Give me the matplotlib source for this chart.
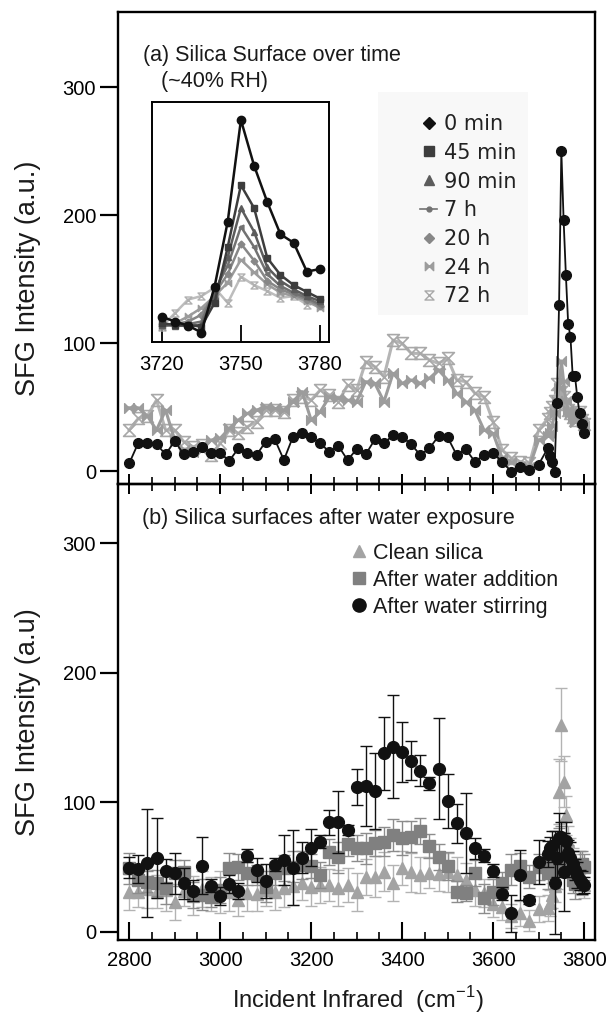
import matplotlib
matplotlib.use("Agg")
import matplotlib.pyplot as plt
from matplotlib.path import Path
from matplotlib.lines import Line2D
from matplotlib.patches import Rectangle
from matplotlib.ticker import MultipleLocator

plt.rcParams['font.family'] = ['Liberation Sans', 'DejaVu Sans']
plt.rcParams['text.color'] = '#1a1a1a'

# ---- data: panel (a) ----
wn_coarse = list(range(2800, 3701, 20))
wn_fine = list(range(3720, 3801, 5))
wn = wn_coarse + wn_fine

t0min = [6, 22, 22, 21, 13, 23.4, 13, 15, 19, 13.8, 14, 8, 17.7, 14, 12.5, 23, 24.7, 8.6,
         26.8, 29.4, 26.3, 21.6, 15, 19.5, 8.6, 17, 13, 24.7, 21.6, 28, 26.8, 20.8, 12.5,
         17.7, 27.3, 26.3, 12.5, 17, 7.3, 12.5, 14, 7.3, -0.5, 3, 0.8, 5,
         17.7, 12, 7.3, -1, 53, 130, 250, 196, 153, 115, 105, 74, 74, 58, 45, 37, 30]
t24h = [49.4, 49.4, 43, 32, 47.6, 24.2, 16.4, 15.1, 16.4, 24.2, 25.5, 33.3, 39.8, 45, 47.6,
        50.2, 49, 47.6, 54.2, 62, 39.8, 46.3, 58, 56.8, 55.4, 54.2, 69.8, 68.5, 54.2, 76.3,
        68.5, 71.1, 68.5, 72.4, 78.9, 71.1, 60.7, 54.2, 47.6, 32, 29.4, 9.9, 7.3, 3.4, 3.4, 24.2,
        27, 30, 35, 45, 55, 65, 86, 70, 55, 48, 45, 42, 38, 40, 42, 38, 35]
t72h = [32, 41.1, 43, 55.4, 32, 32, 22.9, 19, 20.3, 12.5, 21.6, 32, 29.4, 34.6, 38.5, 47.6,
        47.6, 46.3, 55.4, 58, 55.4, 63.3, 59.4, 54.2, 67, 63.3, 85.4, 81.5, 73.7, 102.3, 99.7,
        91.9, 91.9, 86.7, 84.1, 88, 71.1, 69.8, 60.7, 58, 38.5, 16.4, 9.9, 7.3, 6, 32,
        41, 45, 50, 55, 68, 60, 62, 58, 52, 48, 45, 42, 40, 44, 46, 40, 37]

# inset (3720-3780)
wn_inset = list(range(3720, 3781, 5))
in_0min = [17.7, 12, 7.3, -1, 53, 130, 250, 196, 153, 115, 105, 71, 74]
in_45min = [10, 8, 8, 6, 34, 100, 173, 146, 87, 67, 55, 47, 39]
in_90min = [8, 7, 7, 8, 42, 88, 146, 118, 76, 60, 50, 42, 36]
in_7h = [8, 8, 9, 12, 48, 78, 124, 100, 68, 54, 46, 40, 32]
in_20h = [7, 9, 12, 20, 45, 68, 104, 84, 60, 50, 44, 38, 30]
in_24h = [6, 10, 18, 28, 42, 58, 85, 70, 56, 46, 42, 36, 28]
in_72h = [6, 22, 38, 42, 52, 34, 65, 55, 48, 40, 42, 32, 34]

# ---- data: panel (b) ----
stir = [49.5, 48.4, 53.1, 56.9, 46.9, 45.1, 37.4, 31.8, 51, 35.6, 27.8, 36.9, 31.5, 58.5,
        47.7, 39.4, 51.6, 55.4, 49.5, 57.2, 65, 69.6, 84.5, 84.5, 78.7, 112, 112.8, 108.7,
        137.8, 143, 138.6, 132.2, 124.2, 114.6, 125.8, 101, 83.8, 76, 64.4, 58.5, 47.2, 29.2,
        14.1, 43.8, 24.5, 54.2,
        60, 65, 66, 38, 57, 72, 73, 46, 70, 61, 57, 52, 48, 44, 40, 38, 36]
stir_err = [8, 11, 42, 31, 9, 16, 12, 8, 22, 5, 7, 7, 6, 5, 9, 13, 5, 19, 29, 12, 14, 5, 9.5,
            24, 4, 14, 31, 29, 28, 40, 23, 15, 12, 5, 39, 21, 15, 31, 8, 5, 5, 5, 14, 19, 3, 17,
            10, 8, 12, 40, 15, 20, 12, 30, 15, 10, 12, 10, 8, 10, 8, 9, 6]
addition = [49, 40, 38.7, 37.4, 33.6, 45.1, 46.4, 28.4, 28.4, 27.1, 32.3, 49, 50.3, 45.1,
            43.8, 34.8, 45.1, 49, 50.3, 51.6, 50.8, 43.8, 61.9, 57.5, 67.8, 64.4, 64.4, 68.8,
            69.6, 74.7, 72.2, 73.4, 78.1, 66.3, 58, 50.8, 31, 30.1, 45.6, 25.8, 31, 37.4, 47.7,
            50.8, 42.5, 50,
            45, 52, 58, 48, 60, 65, 70, 62, 58, 55, 52, 40, 37, 45, 50, 52, 50]
addition_err = [12, 10, 8, 10, 12, 10, 9, 10, 12, 8, 10, 12, 10, 9, 8, 12, 9, 10, 12, 11, 9, 10,
                10, 12, 9, 10, 12, 10, 11, 12, 13, 12, 10, 9, 10, 11, 8, 6, 10, 11, 10, 9, 12, 10,
                9, 10,
                12, 10, 12, 14, 12, 15, 12, 14, 12, 12, 10, 10, 12, 10, 12, 10, 10]
clean = [30.7, 30.7, 33, 31, 32, 22.9, 31.8, 27.9, 33, 29, 30.7, 30.7, 24.2, 30, 29, 32, 30.7,
         34, 35, 37.4, 34.8, 36, 36.1, 33.5, 36, 30.7, 42.5, 42.5, 46.4, 37.4, 49, 45.9, 43.8,
         45.6, 44.3, 46, 43.8, 39.9, 32.1, 30, 21.2, 18.7, 12.2, 14.1, 8.4, 17.3,
         18.6, 22, 28, 35, 48, 108, 160, 116, 90, 70, 62, 55, 50, 45, 42, 38, 36]
clean_err = [14, 12, 15, 13, 16, 14, 12, 15, 14, 13, 16, 15, 12, 14, 13, 12, 14, 15, 14, 13,
             15, 14, 12, 14, 13, 15, 14, 16, 15, 14, 13, 15, 14, 12, 13, 15, 14, 13, 12, 11,
             10, 10, 9, 10, 8, 10,
             10, 10, 10, 12, 15, 25, 28, 20, 15, 12, 10, 10, 10, 10, 10, 10, 10]

# ---- markers ----
bowtie = Path([(-1, -1), (-1, 1), (1, -1), (1, 1), (-1, -1)],
              [Path.MOVETO, Path.LINETO, Path.LINETO, Path.LINETO, Path.CLOSEPOLY])
hourglass = Path([(-1, 1), (1, 1), (-1, -1), (1, -1), (-1, 1)],
                 [Path.MOVETO, Path.LINETO, Path.LINETO, Path.LINETO, Path.CLOSEPOLY])

c45, c90, c7, c20, c24, c72 = '#3d3d3d', '#5c5c5c', '#727272', '#878787', '#9c9c9c', '#b5b5b5'

W, H = 608, 1014
fig = plt.figure(figsize=(6.08, 10.14), dpi=100)


def fx(x):
    return x / W


def fy(y):
    return 1 - y / H


ax1 = fig.add_axes([fx(118.3), fy(483.7), fx(595) - fx(118.3), fy(12) - fy(483.7)])
ax2 = fig.add_axes([fx(118.3), fy(940), fx(595) - fx(118.3), fy(483.7) - fy(940)])
ax2.patch.set_visible(False)

# panel (a)
ax1.plot(wn, t72h, color=c72, lw=2.2, marker=hourglass, ms=8.5, mfc='none', mec='#a8a8a8',
         mew=1.2, zorder=2)
ax1.plot(wn, t24h, color=c24, lw=2.2, marker=bowtie, ms=7, mfc=c24, mec=c24, zorder=3)
ax1.plot(wn, t0min, color='#111111', lw=1.3, marker='o', ms=7, zorder=4)

for ax in (ax1, ax2):
    ax.set_xlim(2776, 3824)
    ax.xaxis.set_major_locator(MultipleLocator(200))
    ax.xaxis.set_minor_locator(MultipleLocator(50))
    ax.set_yticks([0, 100, 200, 300])
    ax.tick_params(axis='y', which='major', direction='out', length=13, width=1.6,
                   labelsize=14.5, pad=3, right=False)
    for s in ax.spines.values():
        s.set_linewidth(1.7)

ax1.set_ylim(-9.9, 358.6)
ax2.set_ylim(-6.4, 346)
ax1.tick_params(axis='x', which='major', direction='inout', length=14.4, width=1.4,
                labelbottom=False, top=False)
ax1.tick_params(axis='x', which='minor', direction='inout', length=9.6, width=1.2, top=False)
ax2.tick_params(axis='x', which='major', direction='in', length=13, width=1.5,
                labelsize=14.5, pad=8, top=False)
ax2.tick_params(axis='x', which='minor', direction='in', length=5.8, width=1.2, top=False)

# legend background for (a)
ax1.add_patch(Rectangle((fx(378), fy(315)), fx(150), 223 / H, transform=fig.transFigure,
                        facecolor='#f8f8f8', edgecolor='none', zorder=0.5))
handles_a = [
    Line2D([], [], ls='none', marker='D', ms=6, color='#111111'),
    Line2D([], [], ls='none', marker='s', ms=6.5, color=c45),
    Line2D([], [], ls='none', marker='^', ms=6.5, color=c90),
    Line2D([], [], ls='-', lw=1.2, marker='o', ms=3.5, color=c7),
    Line2D([], [], ls='none', marker='D', ms=5.5, color=c20),
    Line2D([], [], ls='none', marker=bowtie, ms=6, color=c24),
    Line2D([], [], ls='none', marker=hourglass, ms=6.5, mfc='none', mec='#a8a8a8', mew=1),
]
labels_a = ['0 min', '45 min', '90 min', '7 h', '20 h', '24 h', '72 h']
ax1.legend(handles_a, labels_a, loc='upper left', bbox_to_anchor=(fx(420.3), fy(114)),
           bbox_transform=fig.transFigure, frameon=False, borderpad=0, borderaxespad=0,
           handlelength=0.8, handletextpad=0.32, labelspacing=0.42,
           prop={'family': 'DejaVu Sans', 'size': 15}, labelcolor='#222222')

# inset
axi = fig.add_axes([fx(152.3), fy(342.3), fx(329) - fx(152.3), fy(102.3) - fy(342.3)])
axi.plot(wn_inset, in_72h, color='#bdbdbd', lw=1.8, marker=hourglass, ms=5, mfc='none',
         mec='#b0b0b0', mew=1)
axi.plot(wn_inset, in_24h, color=c24, lw=1.8, marker=bowtie, ms=4.5, mfc=c24, mec=c24)
axi.plot(wn_inset, in_20h, color=c20, lw=1.8, marker='D', ms=3.5)
axi.plot(wn_inset, in_7h, color=c7, lw=1.8, marker='<', ms=3.5)
axi.plot(wn_inset, in_90min, color=c90, lw=1.8, marker='^', ms=4)
axi.plot(wn_inset, in_45min, color=c45, lw=1.8, marker='s', ms=4)
axi.plot(wn_inset, in_0min, color='#111111', lw=1.8, marker='o', ms=6)
axi.set_xlim(3716.4, 3783.4)
axi.set_ylim(-12.5, 270.8)
axi.set_xticks([3720, 3750, 3780])
axi.set_yticks([])
axi.tick_params(axis='x', direction='in', length=12, width=1.3, labelsize=14.5, pad=9)
for s in axi.spines.values():
    s.set_linewidth(1.4)

# panel (b)
ax2.errorbar(wn, clean, yerr=clean_err, fmt='^', ms=8, color='#a3a3a3', ecolor='#b3b3b3',
             elinewidth=1, capsize=4.3, capthick=1, zorder=2)
ax2.errorbar(wn, addition, yerr=addition_err, fmt='s', ms=8, color='#808080',
             ecolor='#8c8c8c', elinewidth=1, capsize=4.3, capthick=1, zorder=3)
ax2.errorbar(wn, stir, yerr=stir_err, fmt='o', ms=8.5, color='#111111', ecolor='#111111',
             elinewidth=1, capsize=4.3, capthick=1, zorder=4)

handles_b = [
    Line2D([], [], ls='none', marker='^', ms=9, color='#a3a3a3'),
    Line2D([], [], ls='none', marker='s', ms=9, color='#808080'),
    Line2D([], [], ls='none', marker='o', ms=9.5, color='#111111'),
]
labels_b = ['Clean silica', 'After water addition', 'After water stirring']
ax2.legend(handles_b, labels_b, loc='upper left', bbox_to_anchor=(fx(350.7), fy(543)),
           bbox_transform=fig.transFigure, frameon=False, borderpad=0, borderaxespad=0,
           handlelength=0.8, handletextpad=0.24, labelspacing=0.27, fontsize=15.5)

# texts
fig.text(fx(143.3), fy(55.7), '(a) Silica Surface over time', fontsize=15.5, va='center')
fig.text(fx(160.7), fy(81.7), '(~40% RH)', fontsize=15.5, va='center')
fig.text(fx(141.7), fy(518.3), '(b) Silica surfaces after water exposure', fontsize=15.5,
         va='center')
fig.text(fx(28), fy(278), 'SFG Intensity (a.u.)', fontsize=19.5, rotation=90,
         ha='center', va='center')
fig.text(fx(28), fy(722), 'SFG Intensity (a.u)', fontsize=19.5, rotation=90,
         ha='center', va='center')
fig.text(fx(358), fy(1000), r'Incident Infrared  (cm$^{\mathregular{-1}}$)', fontsize=17,
         ha='center', va='center')

fig.savefig('out.png', dpi=100)
